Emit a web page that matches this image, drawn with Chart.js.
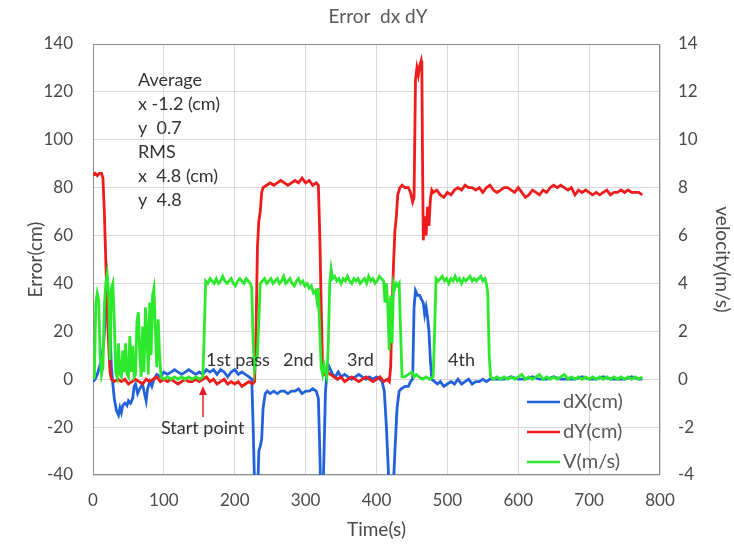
<!DOCTYPE html>
<html>
<head>
<meta charset="utf-8">
<script src="https://cdn.jsdelivr.net/npm/chart.js@4.4.1/dist/chart.umd.min.js"></script>
<style>
  body { margin: 0; background: #fff; }
  #wrap { width: 734px; height: 544px; }
</style>
</head>
<body>
<div id="wrap"><canvas id="chart" width="734" height="544"></canvas></div>
<script>
// Tick labels
const xTicks = [0, 100, 200, 300, 400, 500, 600, 700, 800];
const errTicks = [-40, -20, 0, 20, 40, 60, 80, 100, 120, 140];
const velTicks = [-4, -2, 0, 2, 4, 6, 8, 10, 12, 14];

// dX(cm) - time (s) and value
const dxTime = [0, 3, 6, 9, 12, 15, 18, 20, 22, 24, 26, 28, 30, 33, 36, 38, 40, 42, 45, 48, 50, 53, 56, 58, 60, 63, 66, 70, 72, 75, 77, 80, 83, 86, 90, 95,
  100, 105, 110, 115, 120, 125, 130, 135, 140, 145, 150, 155, 160, 165, 170, 175, 180, 185, 190, 195, 200, 205, 210, 215, 220, 224, 226, 228, 230, 232, 234, 236, 238, 240, 243, 246,
  250, 255, 260, 265, 270, 275, 280, 285, 290, 295, 300, 305, 310, 315, 318, 320, 322, 324, 326, 328, 330, 332, 335, 338, 342, 346,
  350, 355, 360, 365, 370, 375, 380, 385, 390, 395, 400, 405, 408, 411, 414, 417, 420, 423, 426, 429, 432, 435, 440, 445, 448, 451, 453, 455, 458, 461, 464, 466, 468, 470, 472, 474, 476, 478,
  482, 486, 490, 495, 500, 505, 510, 515, 520, 525, 530, 535, 540, 545, 550, 555, 560, 570, 580, 590, 600, 610, 620, 630, 640, 650, 660, 670, 680, 690, 700, 710, 720, 730, 740, 750, 760, 770, 775];
const dxValues = [-1, 0, 2, 5, 8, 15, 28, 33, 30, 20, 5, -2, -8, -13, -15, -12, -14, -11, -10, -11, -9, -10, -8, -3, -2, -6, -4, -2, -5, -9, -4, -1, -3, 0, 2, 1,
  3, 2, 3, 4, 3, 2, 3, 4, 3, 2, 3, 2, 4, 3, 4, 2, 4, 3, 1, 3, 4, 2, 3, 2, 1, 0, -20, -45, -55, -50, -30, -28, -25, -12, -6, -5,
  -6, -5, -6, -5, -5, -6, -5, -5, -4, -6, -5, -5, -4, -5, -8, -30, -55, -55, -30, -5, 2, 6, 4, 2, 1, 3,
  1, 2, 1, 0, 1, 2, 1, 0, 1, 0, 1, 0, -1, -5, -20, -40, -55, -50, -30, -12, -5, -4, -3, -3, -1, 0, 30, 37, 35, 35, 33, 32, 27, 30, 26, 20, 8, 0,
  -1, -2, -1, -3, -2, -1, -2, 0, -2, -1, 0, -2, -1, -1, 0, -1, 0, 0, 0, 1, 0, 0, 1, 0, 0, 1, 0, 0, 0, 1, 0, 0, 1, 0, 0, 0, 1, 0, 0];

// dY(cm)
const dyTime = [0, 3, 6, 9, 12, 14, 16, 18, 20, 22, 24, 26, 30, 35, 40, 45, 50, 55, 60, 65, 70, 75, 80, 85, 90, 95,
  100, 105, 110, 115, 120, 125, 130, 135, 140, 145, 150, 155, 160, 165, 170, 175, 180, 185, 190, 195, 200, 205, 210, 215, 220, 225, 228,
  230, 232, 234, 236, 238, 240, 245, 250, 255, 260, 265, 270, 275, 280, 285, 290, 295, 300, 305, 310, 315, 318, 320, 322, 324, 326,
  330, 335, 340, 345, 350, 355, 360, 365, 370, 375, 380, 385, 390, 395, 400, 405, 410, 415, 418, 420, 422, 424, 426, 428, 430, 433, 436,
  440, 445, 448, 451, 453, 455, 457, 459, 461, 463, 464, 465, 466, 468, 470, 472, 474, 476, 478, 480, 485, 490, 495,
  500, 505, 510, 515, 520, 525, 530, 535, 540, 545, 550, 555, 560, 565, 570, 575, 580, 585, 590, 595, 600, 605, 610, 615, 620, 625, 630, 635, 640, 645,
  650, 655, 660, 665, 670, 675, 680, 685, 690, 695, 700, 705, 710, 715, 720, 725, 730, 735, 740, 745, 750, 755, 760, 765, 770, 775];
const dyValues = [85, 86, 85, 86, 86, 84, 70, 50, 30, 15, 3, 0, -1, 0, -1, 0, -2, -1, 0, -1, -2, 0, -1, 0, 1, -1,
  0, -1, 0, -1, -2, -1, 0, -1, -1, 0, -1, 0, 1, -1, 0, -2, -1, 0, -2, -1, -2, -1, -3, -2, -1, -2, -1,
  20, 55, 66, 70, 78, 80, 81, 82, 81, 82, 83, 82, 81, 82, 83, 82, 84, 82, 83, 81, 82, 81, 60, 30, 5, 2,
  3, 2, 1, 0, 1, -1, 0, 1, 0, -1, 0, 1, 0, -1, 0, 1, -1, 0, -1, 5, 30, 48, 62, 68, 77, 80, 81,
  80, 80, 78, 74, 76, 125, 130, 127, 131, 133, 130, 90, 58, 68, 60, 72, 64, 75, 79, 78, 79, 77, 76,
  78, 77, 79, 80, 79, 81, 80, 80, 79, 80, 78, 80, 81, 79, 78, 79, 80, 80, 79, 78, 80, 78, 76, 77, 79, 78, 77, 79, 78, 80,
  81, 80, 81, 80, 79, 80, 77, 79, 78, 79, 78, 77, 78, 77, 78, 79, 77, 78, 78, 79, 78, 79, 78, 78, 78, 77];

// V(m/s)
const vTime = [0, 2, 4, 6, 8, 10, 12, 14, 16, 18, 20, 22, 24, 26, 28, 30, 32, 34, 36, 38, 40, 42, 44, 46, 48, 50, 52, 54, 56, 58, 60, 62, 64, 66, 68, 70, 72, 74, 76, 78, 80, 82, 84, 86, 88, 90, 92, 94, 96,
  100, 105, 110, 115, 120, 125, 130, 135, 140, 145, 150, 155, 157, 159, 162, 165, 168, 171, 174, 177, 180, 183, 186, 189, 192, 195, 198, 201, 204, 207, 210, 213, 216, 219, 222, 224, 226, 228, 230, 232, 234, 236, 239,
  242, 245, 248, 251, 254, 257, 260, 263, 266, 269, 272, 275, 278, 281, 284, 287, 290, 293, 296, 299, 302, 305, 308, 311, 314, 316, 318, 320, 322, 324, 326, 328, 330, 332, 334, 336, 338,
  341, 344, 347, 350, 353, 356, 359, 362, 365, 368, 371, 374, 377, 380, 383, 386, 389, 392, 395, 398, 401, 404, 407, 410, 412, 414, 416, 418, 420, 422, 424, 426, 428, 430, 432, 434, 436,
  440, 445, 450, 453, 456, 460, 465, 470, 475, 480, 482, 484, 487, 490, 493, 496, 499, 502, 505, 508, 511, 514, 517, 520, 523, 526, 529, 532, 535, 538, 541, 544, 547, 550, 553, 555, 557, 559, 561,
  565, 570, 575, 580, 585, 590, 595, 600, 605, 610, 615, 620, 625, 630, 635, 640, 645, 650, 655, 660, 665, 670, 675, 680, 685, 690, 695, 700, 705, 710, 715, 720, 725, 730, 735, 740, 745, 750, 755, 760, 765, 770, 775];
const vValues = [0, 0.1, 3.2, 3.6, 3.3, 1.0, 0.2, 0.5, 3.0, 4.0, 4.4, 3.6, 0.8, 3.8, 4.0, 2.5, 0.3, 0.1, 1.5, 0.2, 0.1, 1.2, 0.3, 1.5, 0.2, 0.1, 1.8, 0.3, 1.4, 0.1, 0.2, 2.4, 2.8, 1.0, 0.1, 2.2, 0.3, 3.0, 2.0, 0.2, 3.2, 1.0, 3.5, 3.8, 2.0, 0.5, 2.5, 1.0, 0.1,
  0.0, 0.1, 0.0, 0.1, 0.0, 0.1, 0.0, 0.1, 0.0, 0.1, 0.0, 0.1, 2.0, 4.1, 4.0, 4.2, 4.1, 4.0, 4.2, 4.0, 4.1, 4.3, 4.1, 4.0, 4.1, 4.2, 4.0, 3.9, 4.1, 4.2, 4.1, 4.0, 4.2, 4.1, 4.0, 3.8, 1.5, 0.4, 0.8, 1.0, 2.5, 4.0, 4.1,
  4.2, 4.0, 4.1, 4.2, 4.0, 4.1, 4.2, 4.0, 4.1, 4.3, 4.0, 4.1, 4.2, 4.0, 3.9, 4.1, 4.2, 4.0, 4.1, 3.9, 4.0, 3.8, 3.9, 3.6, 3.7, 3.3, 3.8, 2.0, 0.5, 0.2, 0.6, 0.3, 0.1, 1.5, 4.0, 4.6, 4.2,
  4.3, 4.1, 4.2, 4.0, 4.2, 4.1, 4.3, 4.1, 4.0, 4.2, 4.1, 4.2, 4.0, 4.1, 4.2, 4.0, 4.3, 4.1, 4.2, 4.0, 4.1, 4.3, 4.2, 4.1, 3.2, 4.0, 3.0, 1.2, 3.5, 1.5, 4.0, 3.8, 4.0, 3.9, 4.0, 2.0, 0.1,
  0.1, 0.2, 0.3, 0.1, 0.2, 0.1, 0.0, 0.1, 0.0, 0.1, 2.0, 4.2, 4.1, 4.2, 4.3, 4.1, 4.2, 4.0, 4.2, 4.1, 4.3, 4.1, 4.2, 4.0, 4.2, 4.1, 4.2, 4.3, 4.1, 4.2, 4.1, 4.2, 4.3, 4.1, 4.2, 4.0, 3.6, 1.0, 0.1,
  0.0, 0.1, 0.0, 0.1, 0.0, 0.1, 0.0, 0.1, 0.2, 0.0, 0.1, 0.0, 0.1, 0.2, 0.0, 0.1, 0.0, 0.1, 0.0, 0.1, 0.2, 0.0, 0.1, 0.0, 0.1, 0.0, 0.1, 0.0, 0.1, 0.0, 0.1, 0.0, 0.1, 0.0, 0.1, 0.0, 0.1, 0.0, 0.1, 0.0, 0.1, 0.0, 0.1];

const statLines = ['Average', 'x -1.2 (cm)', 'y  0.7', 'RMS', 'x  4.8 (cm)', 'y  4.8'];
const passLabels = [['1st pass', 206], ['2nd', 283], ['3rd', 347], ['4th', 448]];

const colors = { dx: '#2462dc', dy: '#ee1c1c', v: '#2ee82e' };
const textColor = '#4a4a4a';
const font = 'Lato, "Noto Sans", sans-serif';

function pairs(ts, vs) {
    return ts.map((t, i) => ({ x: t, y: vs[i] }));
}

// Title, stats text, pass labels, arrow, legend and plot frame
const overlay = {
    id: 'overlay',
    beforeDatasetsDraw(chart) {
        const ctx = chart.ctx;
        const a = chart.chartArea;
        ctx.save();
        ctx.strokeStyle = '#8c8c8c';
        ctx.lineWidth = 1;
        ctx.strokeRect(a.left + 0.5, a.top + 0.5, a.right - a.left - 1, a.bottom - a.top - 1);
        ctx.restore();
    },
    afterDraw(chart) {
        const ctx = chart.ctx;
        ctx.save();
        ctx.fillStyle = '#595959';
        ctx.textAlign = 'center';
        ctx.textBaseline = 'middle';
        ctx.font = '19px ' + font;
        ctx.fillText('Error  dx dY', 378, 17);

        ctx.fillStyle = '#333';
        ctx.textAlign = 'left';
        ctx.font = '18px ' + font;
        statLines.forEach((s, i) => ctx.fillText(s, 138, 80 + i * 24));

        passLabels.forEach(p => ctx.fillText(p[0], p[1], 360));
        ctx.fillText('Start point', 161, 428);

        // red arrow to the start point
        ctx.strokeStyle = '#e02020';
        ctx.fillStyle = '#e02020';
        ctx.lineWidth = 1.5;
        ctx.beginPath();
        ctx.moveTo(203, 417);
        ctx.lineTo(203, 392);
        ctx.stroke();
        ctx.beginPath();
        ctx.moveTo(203, 386);
        ctx.lineTo(199, 395);
        ctx.lineTo(207, 395);
        ctx.closePath();
        ctx.fill();

        // legend
        const items = [['dX(cm)', colors.dx], ['dY(cm)', colors.dy], ['V(m/s)', colors.v]];
        ctx.font = '20px ' + font;
        items.forEach((it, i) => {
            const y = 402 + i * 30;
            ctx.strokeStyle = it[1];
            ctx.lineWidth = 2.5;
            ctx.beginPath();
            ctx.moveTo(527, y);
            ctx.lineTo(560, y);
            ctx.stroke();
            ctx.fillStyle = '#595959';
            ctx.fillText(it[0], 563, y);
        });
        ctx.restore();
    }
};

const tickFont = { family: font, size: 17 };
const titleFont = { family: font, size: 19 };

new Chart(document.getElementById('chart'), {
    type: 'line',
    data: {
        datasets: [
            { label: 'dX(cm)', data: pairs(dxTime, dxValues), borderColor: colors.dx, yAxisID: 'y', order: 3 },
            { label: 'dY(cm)', data: pairs(dyTime, dyValues), borderColor: colors.dy, yAxisID: 'y', order: 2 },
            { label: 'V(m/s)', data: pairs(vTime, vValues), borderColor: colors.v, yAxisID: 'y1', order: 1 }
        ]
    },
    options: {
        responsive: false,
        animation: false,
        devicePixelRatio: 1,
        layout: { padding: { top: 44, left: 0, right: 0, bottom: 0 } },
        elements: {
            point: { radius: 0 },
            line: { borderWidth: 2.8, tension: 0 }
        },
        plugins: {
            legend: { display: false },
            tooltip: { enabled: false }
        },
        scales: {
            x: {
                type: 'linear',
                min: 0,
                max: 800,
                afterBuildTicks: s => { s.ticks = xTicks.map(v => ({ value: v })); },
                afterFit: s => { s.height = 69; },
                ticks: { color: textColor, font: tickFont, padding: 15 },
                grid: { color: '#d9d9d9', drawTicks: false },
                border: { display: false },
                title: { display: true, text: 'Time(s)', color: textColor, font: titleFont, padding: { bottom: 3 } }
            },
            y: {
                position: 'left',
                min: -40,
                max: 140,
                afterBuildTicks: s => { s.ticks = errTicks.map(v => ({ value: v })); },
                afterFit: s => { s.width = 93; },
                ticks: { color: textColor, font: tickFont, padding: 20 },
                grid: { color: '#d9d9d9', drawTicks: false },
                border: { display: false },
                title: { display: true, text: 'Error(cm)', color: textColor, font: titleFont, padding: { top: 24 } }
            },
            y1: {
                position: 'right',
                min: -4,
                max: 14,
                afterBuildTicks: s => { s.ticks = velTicks.map(v => ({ value: v })); },
                afterFit: s => { s.width = 74; },
                ticks: { color: textColor, font: tickFont, padding: 18 },
                grid: { display: false, drawTicks: false },
                border: { display: false },
                title: { display: true, text: 'velocity(m/s)', color: textColor, font: titleFont, padding: { top: 0 } }
            }
        }
    },
    plugins: [overlay]
});
</script>
</body>
</html>
